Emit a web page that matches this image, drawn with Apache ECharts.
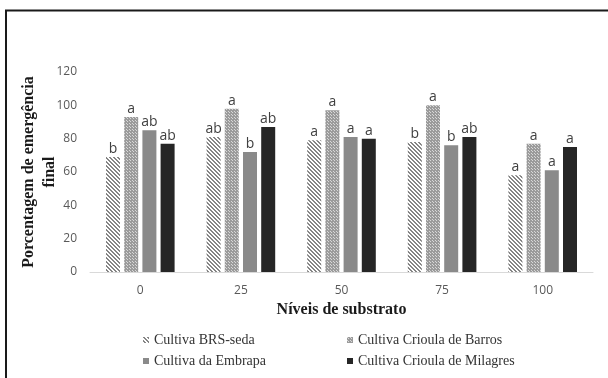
<!DOCTYPE html>
<html>
<head>
<meta charset="utf-8">
<script src="https://cdn.jsdelivr.net/npm/echarts@6/dist/echarts.min.js"></script>
<style>
  html, body { margin: 0; padding: 0; background: #ffffff; }
  #chart { width: 608px; height: 378px; }
</style>
</head>
<body>
<div id="chart"></div>
<script>
// Substrate levels on the category axis
const niveis = ['0', '25', '50', '75', '100'];
const yTicks = [0, 20, 40, 60, 80, 100, 120];

// Final emergence (%) per cultivar
const brsSeda = [69, 81, 79, 78, 58];
const criolaBarros = [93, 98, 97, 100, 77];
const embrapa = [85, 72, 81, 76, 61];
const criolaMilagres = [77, 87, 80, 81, 75];

// Significance letters drawn above each bar
const letrasBrs = ['b', 'ab', 'a', 'b', 'a'];
const letrasBarros = ['a', 'a', 'a', 'a', 'a'];
const letrasEmbrapa = ['ab', 'b', 'a', 'b', 'a'];
const letrasMilagres = ['ab', 'ab', 'a', 'ab', 'a'];

const nomes = ['Cultiva BRS-seda', 'Cultiva Crioula de Barros', 'Cultiva da Embrapa', 'Cultiva Crioula de Milagres'];

// Diagonal hatching pattern
function hatch() {
  const c = document.createElement('canvas');
  c.width = 4; c.height = 4;
  const g = c.getContext('2d');
  g.fillStyle = '#ffffff';
  g.fillRect(0, 0, 4, 4);
  g.fillStyle = '#858585';
  for (let i = 0; i < 4; i++) {
    g.fillRect(i, i, 1, 1);
    g.fillRect((i + 1) % 4, i, 1, 1);
  }
  return c;
}
// Fine dotted grid pattern
function dots() {
  const c = document.createElement('canvas');
  c.width = 3; c.height = 3;
  const g = c.getContext('2d');
  g.fillStyle = '#9b9b9b';
  g.fillRect(0, 0, 3, 3);
  g.fillStyle = '#d8d8d8';
  g.fillRect(1, 1, 1, 1);
  g.fillRect(0, 0, 1, 1);
  return c;
}

const fills = [
  { image: hatch(), repeat: 'repeat' },
  { image: dots(), repeat: 'repeat' },
  '#8a8a8a',
  '#262626'
];
const valores = [brsSeda, criolaBarros, embrapa, criolaMilagres];
const letras = [letrasBrs, letrasBarros, letrasEmbrapa, letrasMilagres];

const chart = echarts.init(document.getElementById('chart'), null, { renderer: 'canvas' });

const legendText = { fontFamily: 'Liberation Serif', fontSize: 14, color: '#333333' };

chart.setOption({
  animation: false,
  backgroundColor: '#ffffff',
  grid: { left: 90, right: 15, top: 72, bottom: 106 },
  legend: [
    {
      data: [nomes[0], nomes[2]], orient: 'vertical', left: 138, top: 328,
      icon: 'rect', itemWidth: 6, itemHeight: 6, itemGap: 7,
      textStyle: legendText
    },
    {
      data: [nomes[1], nomes[3]], orient: 'vertical', left: 342, top: 328,
      icon: 'rect', itemWidth: 6, itemHeight: 6, itemGap: 7,
      textStyle: legendText
    }
  ],
  xAxis: {
    type: 'category',
    data: niveis,
    name: 'Níveis de substrato',
    nameLocation: 'middle',
    nameGap: 30,
    nameMoveOverlap: false,
    nameTextStyle: { fontFamily: 'Liberation Serif', fontSize: 16, fontWeight: 'bold', color: '#1a1a1a' },
    axisLine: { lineStyle: { color: '#d9d9d9', width: 1 } },
    axisTick: { show: false },
    axisLabel: { fontFamily: 'Open Sans', fontSize: 12, color: '#595959', margin: 13 }
  },
  yAxis: {
    type: 'value',
    min: yTicks[0],
    max: yTicks[yTicks.length - 1],
    interval: yTicks[1] - yTicks[0],
    name: 'Porcentagem de emergência\nfinal',
    nameLocation: 'middle',
    nameRotate: 90,
    nameGap: 30,
    nameMoveOverlap: false,
    nameTextStyle: { fontFamily: 'Liberation Serif', fontSize: 16, fontWeight: 'bold', color: '#1a1a1a', lineHeight: 21 },
    axisLine: { show: false },
    axisTick: { show: false },
    splitLine: { show: false },
    axisLabel: { fontFamily: 'Open Sans', fontSize: 12, color: '#595959', margin: 13 }
  },
  series: valores.map((v, k) => ({
    name: nomes[k],
    type: 'bar',
    data: v,
    barWidth: 14,
    barGap: '30%',
    itemStyle: { color: fills[k] },
    label: {
      show: true,
      position: 'top',
      distance: 1,
      fontFamily: 'Open Sans',
      fontSize: 14,
      color: '#404040',
      formatter: p => letras[k][p.dataIndex]
    }
  })),
  graphic: [
    {
      type: 'rect',
      shape: { x: 6, y: 10.5, width: 640, height: 420 },
      style: { fill: null, stroke: '#1a1a1a', lineWidth: 2 },
      silent: true
    }
  ]
});
</script>
</body>
</html>
